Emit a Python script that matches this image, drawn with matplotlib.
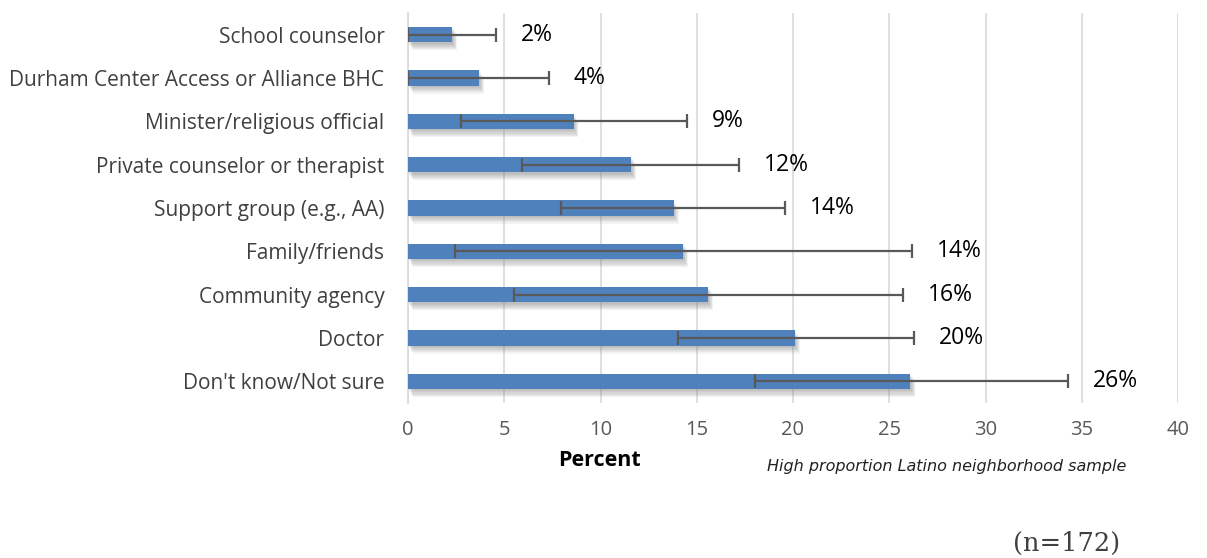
import matplotlib
matplotlib.use("Agg")
import matplotlib.pyplot as plt
import matplotlib.patheffects as pe
import numpy as np

categories = ["Don't know/Not sure", "Doctor", "Community agency", "Family/friends",
              "Support group (e.g., AA)", "Private counselor or therapist",
              "Minister/religious official", "Durham Center Access or Alliance BHC",
              "School counselor"]
values = [26.1, 20.1, 15.6, 14.3, 13.8, 11.6, 8.6, 3.7, 2.3]
err_low = [18.0, 14.0, 5.5, 2.45, 7.95, 5.9, 2.75, 0.0, 0.0]
err_high = [34.3, 26.3, 25.7, 26.2, 19.6, 17.2, 14.5, 7.3, 4.55]
labels = ["26%", "20%", "16%", "14%", "14%", "12%", "9%", "4%", "2%"]
xticks = [0, 5, 10, 15, 20, 25, 30, 35, 40]

plt.rcParams['font.family'] = ['Open Sans', 'DejaVu Sans']

fig = plt.figure(figsize=(12.07, 5.58), dpi=100)
ax = fig.add_axes([408/1207, 1-403/558, (1178-408)/1207, (403-13)/558])

y = np.arange(len(categories))
vals = np.array(values)
xerr = np.array([vals - np.array(err_low), np.array(err_high) - vals])

bars = ax.barh(y, vals, height=0.36, color='#4F81BD', zorder=3)
shadow_fx = [pe.SimplePatchShadow(offset=(0.5 * i, -0.8 * i), shadow_rgbFace='#7f7f7f', alpha=0.09)
             for i in range(7, 0, -1)]
for b in bars:
    b.set_path_effects(shadow_fx + [pe.Normal()])
ax.errorbar(vals, y, xerr=xerr, fmt='none', ecolor='#595959', elinewidth=1.6,
            capsize=5, capthick=1.6, zorder=4)

for yi, hi, lab in zip(y, err_high, labels):
    ax.text(hi + 1.3, yi, lab, va='center', ha='left', fontsize=16.5, color='black', zorder=5)

ax.set_xlim(0, 40)
ax.set_ylim(-0.5, len(categories) - 0.5)
ax.set_xticks(xticks)
ax.set_xticklabels([str(t) for t in xticks], fontsize=14.5, color='#595959')
ax.set_yticks(y)
ax.set_yticklabels(categories, fontsize=15, color='#404040')
ax.tick_params(axis='both', length=0)
ax.tick_params(axis='x', pad=12)
ax.tick_params(axis='y', pad=17)
ax.grid(axis='x', color='#D9D9D9', linewidth=1.2, zorder=0)
ax.set_axisbelow(True)
for s in ['top', 'right', 'bottom']:
    ax.spines[s].set_visible(False)
ax.spines['left'].set_color('#D9D9D9')
ax.spines['left'].set_linewidth(1.2)

fig.text(600/1207, 1-460/558, "Percent", fontsize=15.5, fontweight='bold', ha='center', va='center')
fig.text(947/1207, 1-467/558, "High proportion Latino neighborhood sample", fontsize=11.5,
         style='italic', ha='center', va='center', color='#222222', family='DejaVu Sans')
fig.text(1067/1207, 1-543/558, "(n=172)", fontsize=18.5, ha='center', va='center',
         color='#404040', family='DejaVu Serif')

fig.savefig("out.png", dpi=100)
